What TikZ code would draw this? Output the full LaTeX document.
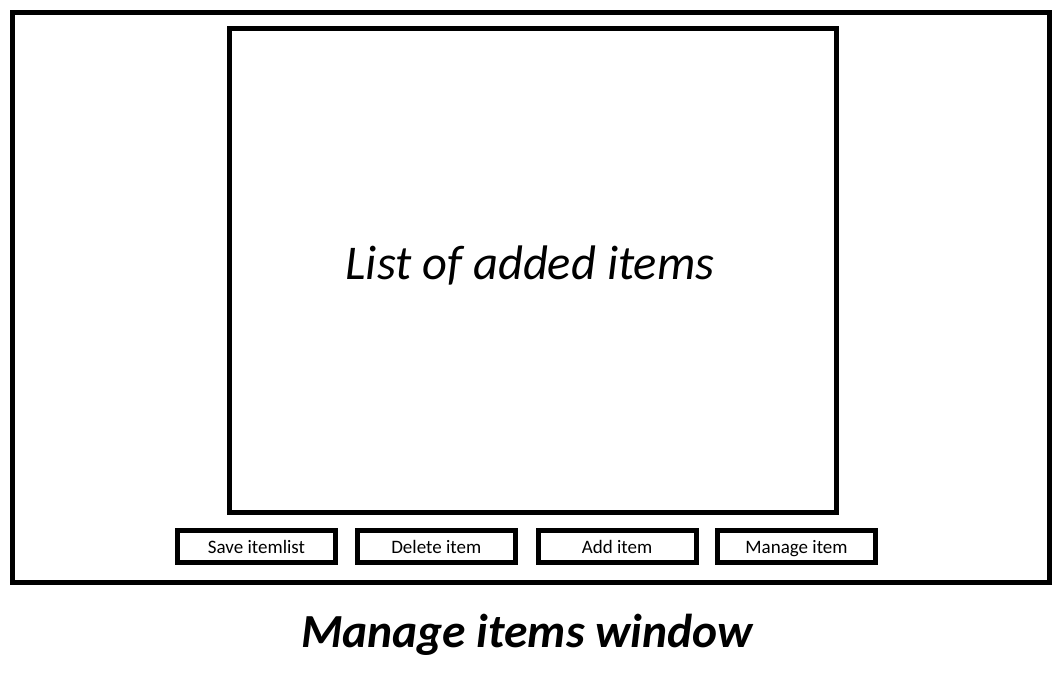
\documentclass[tikz,border=0pt]{standalone}
\usepackage{fontspec}
\setmainfont{Carlito}
\begin{document}
\begin{tikzpicture}[x=1pt,y=-1pt,
  frame/.style={draw=black,line width=5pt},
  btn/.style={frame,minimum width=158pt,minimum height=32pt,inner sep=0pt,text height=18pt,text depth=4pt,font=\fontsize{19}{22}\selectfont},
  biglabel/.style={font=\fontsize{48.5}{56}\selectfont\itshape},
  titlelabel/.style={font=\fontsize{47.5}{56}\selectfont\bfseries\itshape}]
\useasboundingbox[fill=white] (0,0) rectangle (1064,683);
\draw[frame] (12.5,12.5) rectangle (1049,582.5);
\node[frame,minimum width=606.5pt,minimum height=484pt,inner sep=0pt] (list) at (532.75,270.5) {};
\node[biglabel,anchor=base] (listtext) at (530,279) {List of added items};
\node[btn] (save) at (256.5,546.5) {Save itemlist};
\node[btn] (delete) at (436.25,546.5) {Delete item};
\node[btn] (add) at (617,546.5) {Add item};
\node[btn] (manage) at (796.5,546.5) {Manage item};
\node[titlelabel,anchor=base] (title) at (527,647) {Manage items window};
\end{tikzpicture}
\end{document}
